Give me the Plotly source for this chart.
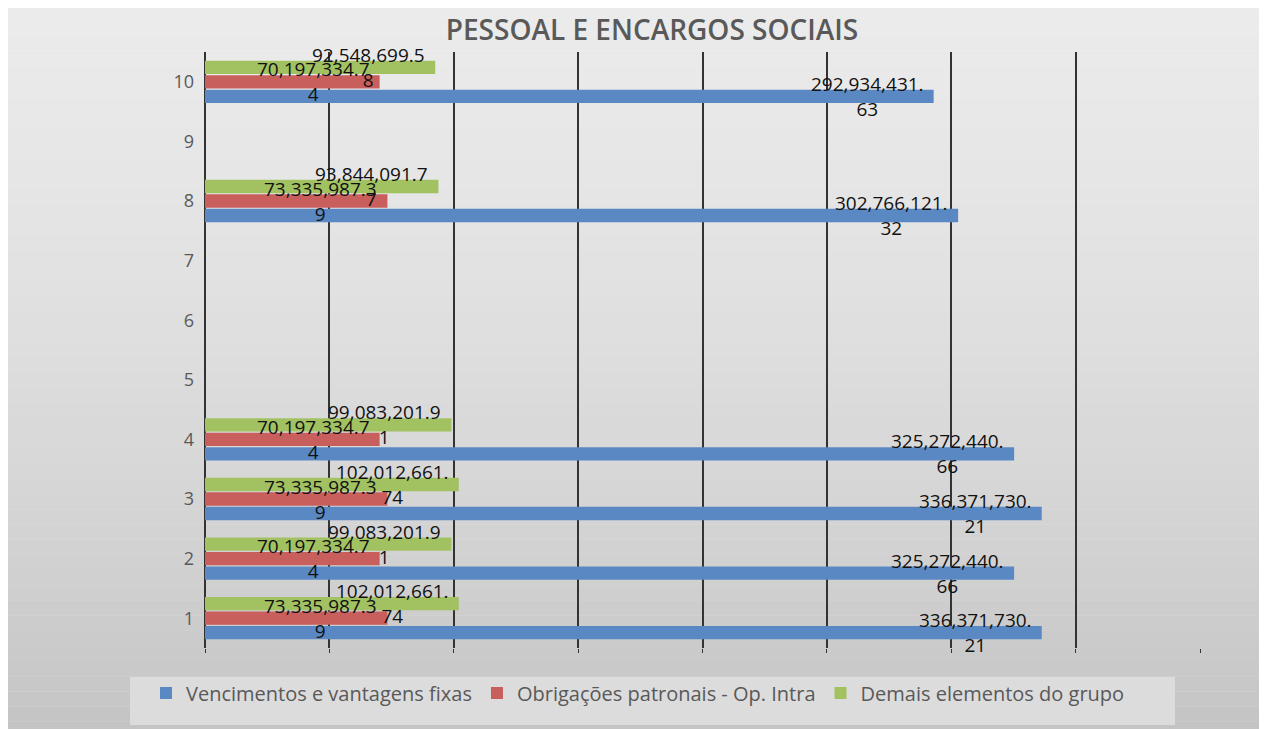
import plotly.graph_objects as go

categories = ["1", "2", "3", "4", "5", "6", "7", "8", "9", "10"]
vencimentos = [336371730.21, 325272440.66, 336371730.21, 325272440.66, None, None, None, 302766121.32, None, 292934431.63]
obrigacoes = [73335987.39, 70197334.74, 73335987.39, 70197334.74, None, None, None, 73335987.39, None, 70197334.74]
demais = [102012661.74, 99083201.91, 102012661.74, 99083201.91, None, None, None, 93844091.77, None, 92548699.58]

names = ["Vencimentos e vantagens fixas", "Obrigações patronais - Op. Intra", "Demais elementos do grupo"]
colors = ["#5A88C3", "#C95F5C", "#A2C262"]
FONT = "Open Sans"

W, H = 1267, 729
L, R, T, B = 197, 75, 44, 89
PW, PH = W - L - R, H - T - B


def label(v):
    # excel wraps the label after 12 characters
    s = f"{v:,.2f}"
    return s[:12] + "<br>" + s[12:]


fig = go.Figure()
annotations = []
slot = PH / len(categories) * (1 - 0.27) / 3
for i, (vals, name, col) in enumerate(zip([vencimentos, obrigacoes, demais], names, colors)):
    fig.add_trace(go.Bar(y=categories, x=vals, name=name, orientation="h",
                         marker=dict(color=col, line=dict(width=0))))
    for k, v in enumerate(vals):
        if v is None:
            continue
        # category axis: position k is the k-th category
        annotations.append(dict(x=v, y=k, xref="x", yref="y", text=label(v),
                                showarrow=False, xanchor="right", yanchor="middle",
                                xshift=-8, yshift=(i - 1) * slot, align="center",
                                font=dict(family=FONT, size=19, color="#111111")))

# grey gradient background like the excel chart area
shapes = []
nb = 48
for k in range(nb):
    y0p, y1p = H * k / nb, H * (k + 1) / nb
    f = (y0p + y1p) / 2 / H
    c = int(236 - 20 * f - 20 * f * f)
    shapes.append(dict(type="rect", xref="paper", yref="paper", layer="below",
                       x0=-L / PW, x1=1 + R / PW,
                       y0=(PH + T - y1p) / PH, y1=(PH + T - y0p) / PH,
                       fillcolor=f"rgb({c},{c},{c})", line=dict(width=0)))
shapes.append(dict(type="rect", xref="paper", yref="paper", layer="below",
                   x0=-75 / PW, x1=970 / PW, y0=-77 / PH, y1=-29 / PH,
                   fillcolor="#dcdcdc", line=dict(width=0)))

fig.update_layout(
    width=W, height=H,
    barmode="group", bargap=0.27, bargroupgap=0.08,
    margin=dict(l=L, r=R, t=T, b=B),
    paper_bgcolor="#e0e0e0", plot_bgcolor="rgba(0,0,0,0)",
    font=dict(family=FONT, color="#595959"),
    title=dict(text="PESSOAL E ENCARGOS SOCIAIS", x=644 / W, xanchor="center",
               y=1 - 22 / H, yanchor="middle",
               font=dict(size=28, color="#595959", weight=600)),
    showlegend=True,
    legend=dict(orientation="h", x=-59 / PW, xanchor="left", y=-45 / PH, yanchor="middle",
                font=dict(size=20, color="#595959"), bgcolor="rgba(0,0,0,0)"),
    shapes=shapes,
    annotations=annotations,
)
fig.update_xaxes(range=[0, 400000000], dtick=50000000, showticklabels=False,
                 showgrid=True, gridcolor="#333333", gridwidth=1.5,
                 zeroline=True, zerolinecolor="#333333", zerolinewidth=1.5,
                 ticks="outside", ticklen=4, tickcolor="#333333")
fig.update_yaxes(type="category", categoryorder="array", categoryarray=categories,
                 range=[-0.5, len(categories) - 0.5],
                 showgrid=False, ticks="", ticklabelstandoff=10,
                 tickfont=dict(family=FONT, size=18, color="#595959"))

fig.write_html("out.html")
